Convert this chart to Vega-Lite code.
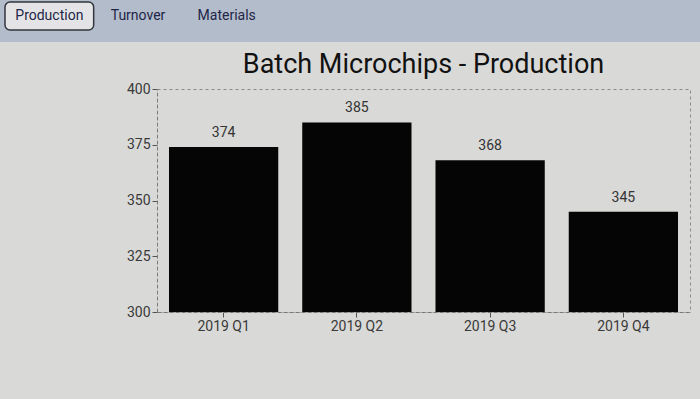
{
  "$schema": "https://vega.github.io/schema/vega-lite/v6.json",
  "background": "#d9d9d7",
  "padding": {"left": 0, "top": 0, "right": 0, "bottom": 65},
  "spacing": 0,
  "config": {
    "font": "Roboto",
    "concat": {"spacing": 0},
    "view": {"stroke": null}
  },
  "vconcat": [
    {
      "width": 533,
      "height": 50,
      "view": {"stroke": null},
      "data": {"values": [
        {"tab": "Production", "selected": true},
        {"tab": "Turnover", "selected": false},
        {"tab": "Materials", "selected": false}
      ]},
      "layer": [
        {
          "mark": {"type": "rect", "fill": "#b3bccb", "clip": false},
          "encoding": {
            "x": {"datum": 0, "type": "quantitative", "axis": null, "scale": {"domain": [0, 1], "range": [-157, 543]}},
            "x2": {"datum": 1},
            "y": {"datum": 0.16, "type": "quantitative", "axis": null, "scale": {"domain": [0, 1]}},
            "y2": {"datum": 1}
          }
        },
        {
          "encoding": {
            "x": {
              "field": "tab", "type": "nominal", "sort": null, "axis": null,
              "scale": {"type": "band", "range": [-152, 114], "paddingInner": 0, "paddingOuter": 0}
            },
            "y": {
              "datum": "tabs", "type": "nominal", "axis": null,
              "scale": {"type": "band", "range": [2, 30], "paddingInner": 0, "paddingOuter": 0}
            }
          },
          "layer": [
            {
              "transform": [{"filter": "datum.selected"}],
              "mark": {"type": "bar", "fill": "#e4e4e6", "stroke": "#33363d", "strokeWidth": 1.5, "cornerRadius": 5, "clip": false}
            },
            {
              "mark": {"type": "text", "fontSize": 14, "color": "#1e2547", "baseline": "middle", "clip": false},
              "encoding": {"text": {"field": "tab"}}
            }
          ]
        }
      ],
      "resolve": {"scale": {"x": "independent", "y": "independent"}}
    },
    {
      "width": 533,
      "height": 223,
      "title": {
        "text": "Batch Microchips - Production",
        "fontSize": 27,
        "fontWeight": "normal",
        "color": "#111111",
        "anchor": "middle",
        "offset": 3
      },
      "view": {"stroke": "#8a8a8a", "strokeDash": [3, 3], "strokeWidth": 1},
      "data": {"values": [
        {"quarter": "2019 Q1", "production": 374},
        {"quarter": "2019 Q2", "production": 385},
        {"quarter": "2019 Q3", "production": 368},
        {"quarter": "2019 Q4", "production": 345}
      ]},
      "encoding": {
        "x": {
          "field": "quarter", "type": "nominal", "sort": null, "title": null,
          "scale": {"paddingInner": 0.18, "paddingOuter": 0.09},
          "axis": {
            "labelAngle": 0, "labelFontSize": 14, "labelColor": "#3a3a3a", "labelPadding": 2,
            "domainColor": "#777777", "domainDash": [3, 3], "tickColor": "#555555", "tickSize": 5
          }
        },
        "y": {
          "field": "production", "type": "quantitative", "title": null,
          "scale": {"domain": [300, 400], "zero": false, "nice": false},
          "axis": {
            "values": [300, 325, 350, 375, 400], "grid": false,
            "labelFontSize": 14, "labelColor": "#3a3a3a", "labelPadding": 2,
            "domainColor": "#777777", "domainDash": [3, 3], "tickColor": "#555555", "tickSize": 5,
            "minExtent": 155
          }
        }
      },
      "layer": [
        {
          "mark": {"type": "bar", "color": "#050505"},
          "encoding": {"y2": {"datum": 300}}
        },
        {
          "mark": {"type": "text", "fontSize": 14, "color": "#333333", "dy": -14},
          "encoding": {"text": {"field": "production"}}
        }
      ]
    }
  ]
}
